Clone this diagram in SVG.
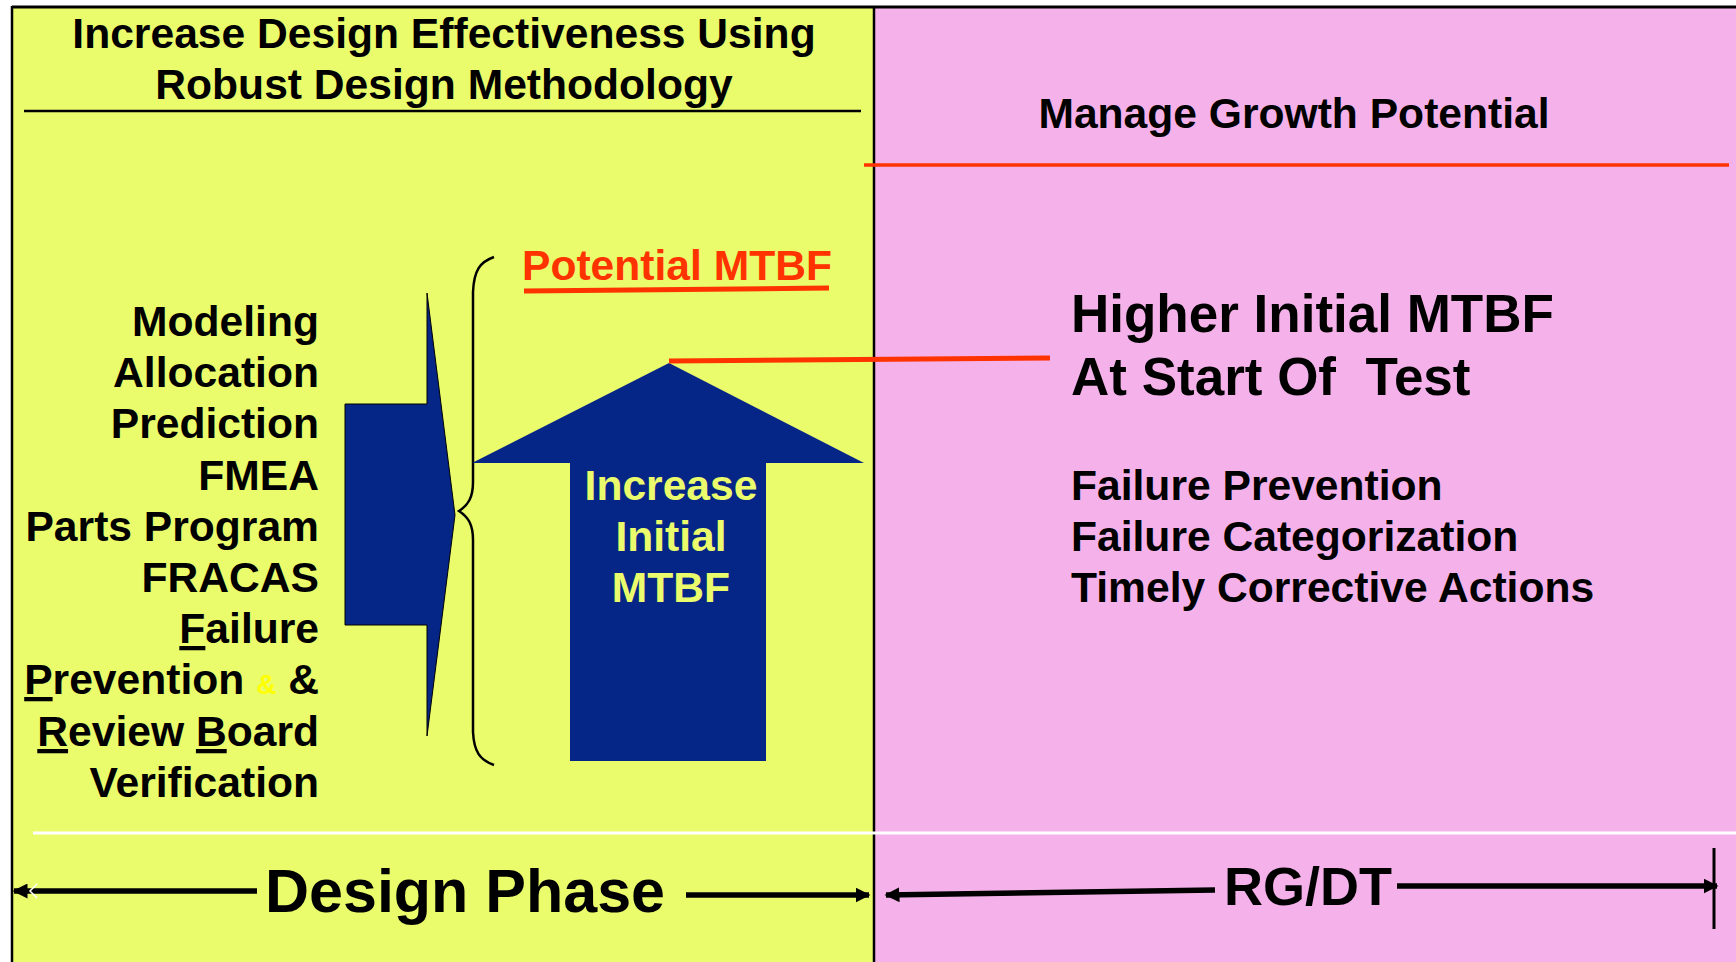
<svg xmlns="http://www.w3.org/2000/svg" width="1736" height="962" viewBox="0 0 1736 962">
  <style>
    text { font-family: "Liberation Sans", Arial, sans-serif; font-weight: bold; fill: #000; }
    .h { font-size: 42.6px; }
    .big { font-size: 53px; }
    .red { fill: #FF3300; }
    .yel { fill: #EAFB6C; }
    .blk { stroke: #000; fill: none; }
    .u { text-decoration: underline; }
  </style>
  <defs>
    <marker id="ah" viewBox="0 0 10 10" refX="9" refY="5" markerWidth="15" markerHeight="15" markerUnits="userSpaceOnUse" orient="auto-start-reverse">
      <path d="M0,0 L10,5 L0,10 Z" fill="#000"/>
    </marker>
  </defs>

  <rect x="0" y="0" width="1736" height="962" fill="#fff"/>
  <g id="panel-design">
    <rect x="12" y="7" width="862" height="955" fill="#EAFB6C"/>
  </g>
  <g id="panel-growth">
    <rect x="874" y="7" width="862" height="955" fill="#F5B2EA"/>
  </g>
  <g id="frame">
    <line x1="12" y1="7" x2="1736" y2="7" stroke="#000" stroke-width="3"/>
    <line x1="12" y1="6" x2="12" y2="962" stroke="#000" stroke-width="2.5"/>
    <line x1="874" y1="6" x2="874" y2="962" stroke="#000" stroke-width="2.5"/>
    <line x1="33" y1="833" x2="1736" y2="833" stroke="#fff" stroke-width="3"/>
  </g>

  <g id="header-design">
    <text class="h" x="444" y="48" text-anchor="middle">Increase Design Effectiveness Using</text>
    <text class="h" x="444" y="99" text-anchor="middle">Robust Design Methodology</text>
    <line x1="24" y1="111" x2="861" y2="111" stroke="#000" stroke-width="2.5"/>
  </g>

  <g id="header-growth">
    <text class="h" x="1294" y="128" text-anchor="middle">Manage Growth Potential</text>
    <line x1="864" y1="165" x2="1729" y2="165" stroke="#FF3300" stroke-width="3.5"/>
  </g>

  <g id="activities">
    <text class="h" x="319" y="336" text-anchor="end">Modeling</text>
    <text class="h" x="319" y="387" text-anchor="end">Allocation</text>
    <text class="h" x="319" y="438" text-anchor="end">Prediction</text>
    <text class="h" x="319" y="490" text-anchor="end">FMEA</text>
    <text class="h" x="319" y="541" text-anchor="end">Parts Program</text>
    <text class="h" x="319" y="592" text-anchor="end">FRACAS</text>
    <text class="h" x="319" y="643" text-anchor="end"><tspan class="u">F</tspan>ailure</text>
    <text class="h" x="319" y="694" text-anchor="end"><tspan class="u">P</tspan>revention <tspan fill="#FFFF00" style="font-size:28px">&amp;</tspan> &amp;</text>
    <text class="h" x="319" y="746" text-anchor="end"><tspan class="u">R</tspan>eview <tspan class="u">B</tspan>oard</text>
    <text class="h" x="319" y="797" text-anchor="end">Verification</text>
  </g>

  <g id="notched-arrow">
    <polygon points="345,404 427,404 427,293 455,515 427,736 427,625 345,625" fill="#052687" stroke="#000" stroke-width="1"/>
  </g>

  <g id="brace">
    <path class="blk" stroke-width="2.5" d="M494,257 C480,262 474,270 473,292 L473,482 C473,498 468,505 459,511 C468,517 473,524 473,540 L473,732 C474,752 480,760 494,765"/>
  </g>

  <g id="potential-mtbf">
    <text class="h red" x="522" y="280">Potential MTBF</text>
    <line x1="524" y1="291" x2="829" y2="288" stroke="#FF3300" stroke-width="5"/>
  </g>

  <g id="up-arrow">
    <polygon points="669,363 864,463 766,463 766,761 570,761 570,463 472,463" fill="#052687"/>
    <text class="h yel" x="671" y="500" text-anchor="middle">Increase</text>
    <text class="h yel" x="671" y="551" text-anchor="middle">Initial</text>
    <text class="h yel" x="671" y="602" text-anchor="middle">MTBF</text>
  </g>

  <g id="higher-mtbf">
    <text class="big" x="1071" y="332">Higher Initial MTBF</text>
    <text class="big" x="1071" y="395" xml:space="preserve">At Start Of  Test</text>
    <text class="h" x="1071" y="500">Failure Prevention</text>
    <text class="h" x="1071" y="551">Failure Categorization</text>
    <text class="h" x="1071" y="602">Timely Corrective Actions</text>
  </g>

  <g id="connectors">
    <line x1="669" y1="361" x2="1050" y2="358" stroke="#FF3300" stroke-width="5"/>
    <line x1="257" y1="891" x2="14" y2="891" stroke="#000" stroke-width="5.5" marker-end="url(#ah)"/>
    <path d="M37,884 L30,891 L37,898" fill="none" stroke="#fff" stroke-width="1.5"/>
    <line x1="686" y1="895" x2="869" y2="895" stroke="#000" stroke-width="5.5" marker-end="url(#ah)"/>
    <line x1="1215" y1="890" x2="886" y2="895" stroke="#000" stroke-width="5.5" marker-end="url(#ah)"/>
    <line x1="1397" y1="886" x2="1717" y2="886" stroke="#000" stroke-width="5.5" marker-end="url(#ah)"/>
    <line x1="1714" y1="848" x2="1714" y2="929" stroke="#000" stroke-width="3"/>
  </g>

  <g id="phase-labels">
    <text x="265" y="912" style="font-size:61px">Design Phase</text>
    <text x="1224" y="905" style="font-size:54px">RG/DT</text>
  </g>
</svg>
